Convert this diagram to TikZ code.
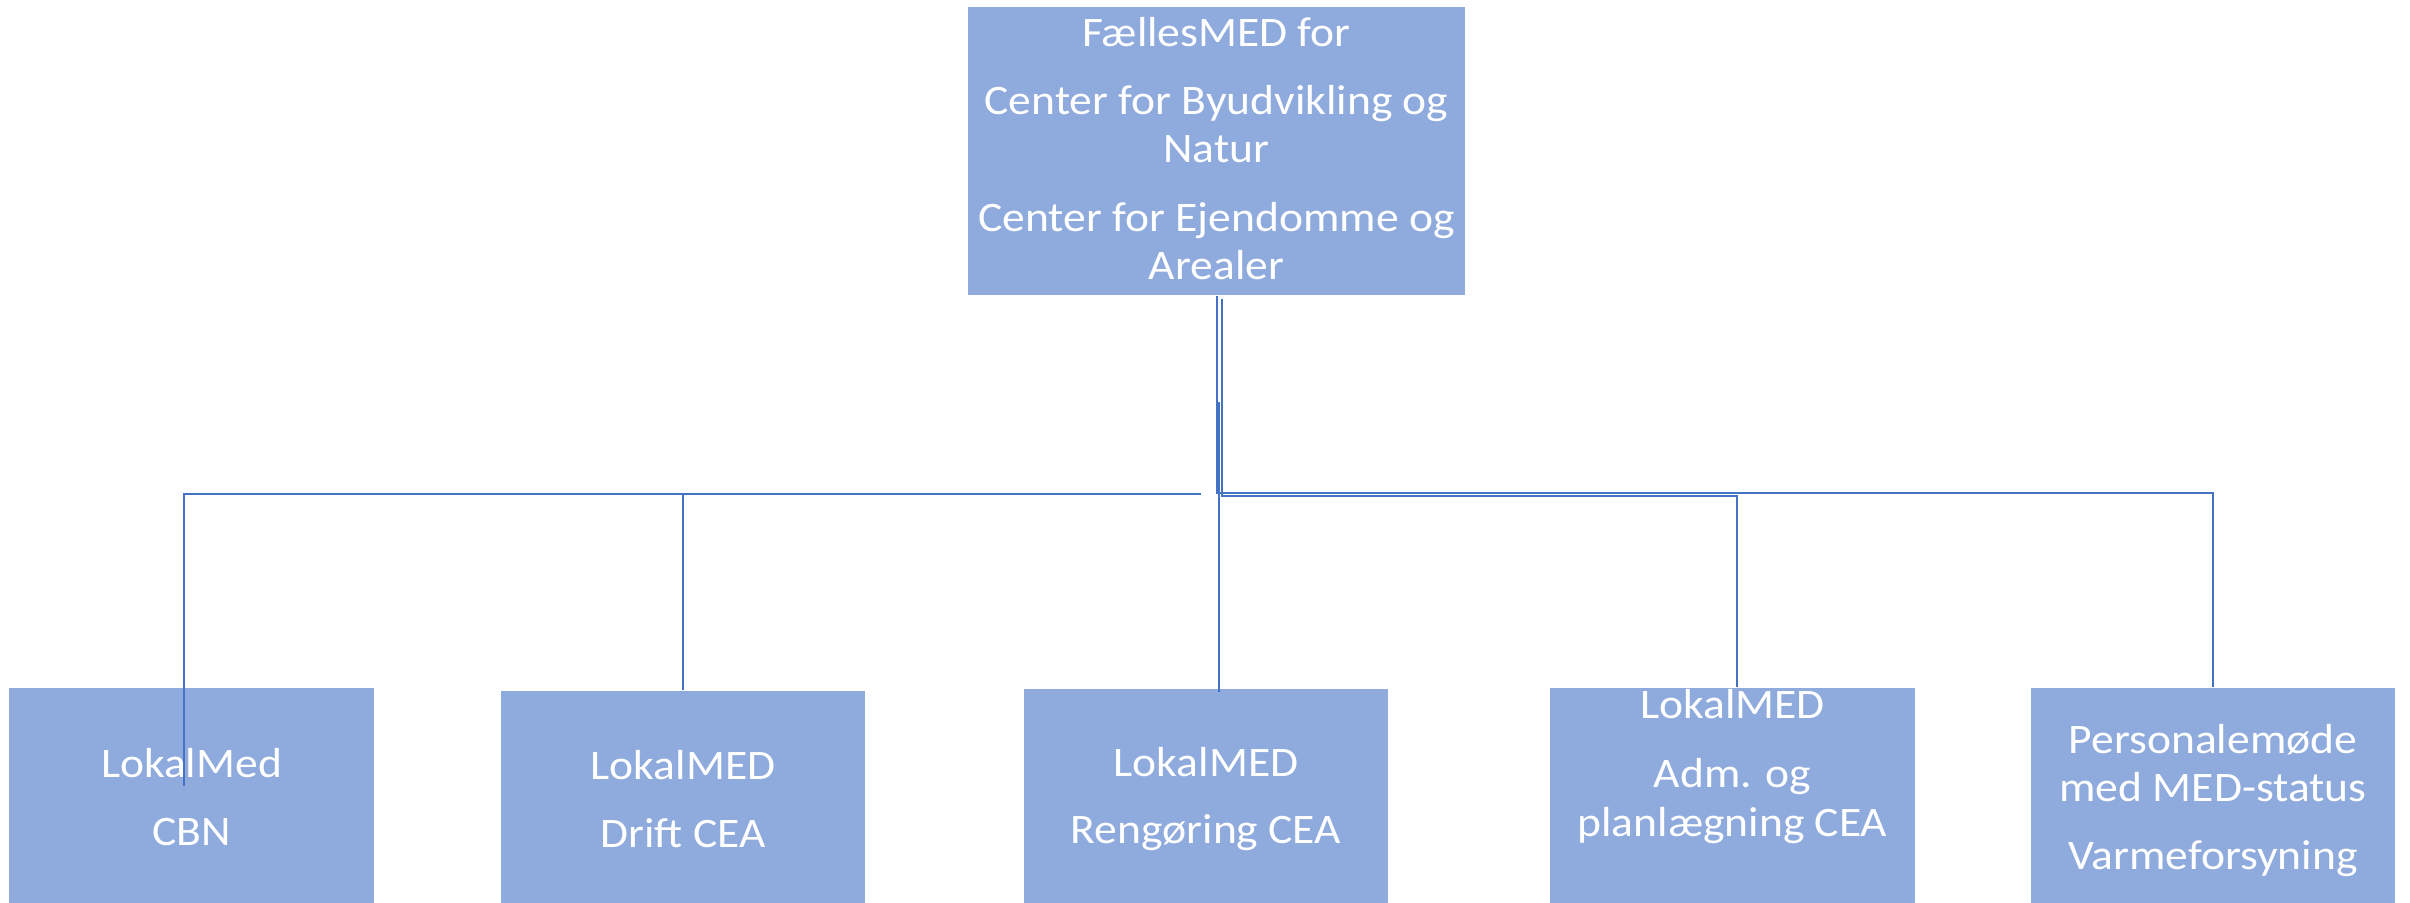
\documentclass[tikz,border=0pt]{standalone}
\usepackage{fontspec}
\setmainfont[FakeStretch=1.085]{Carlito}
\definecolor{boxfill}{HTML}{8FAADC}
\definecolor{linecol}{HTML}{4472C4}
\begin{document}
\begin{tikzpicture}[x=0.3pt,y=-0.3pt,
  box/.style={fill=boxfill, draw=none, inner sep=0pt},
  txt/.style={anchor=base, text=white, inner sep=0pt, font=\fontsize{12.6}{14.4}\selectfont},
  conn/.style={draw=linecol, line width=0.45pt}]
\useasboundingbox (0,0) rectangle (2410,903);
\clip (0,0) rectangle (2410,903);
\fill[white] (0,0) rectangle (2410,903);
% boxes
\node[box, minimum width=497*0.3pt, minimum height=288*0.3pt] (top) at (1216.5,151) {};
\node[box, minimum width=365*0.3pt, minimum height=236*0.3pt] (b1) at (191.5,806) {};
\node[box, minimum width=364*0.3pt, minimum height=233*0.3pt] (b2) at (683,807.5) {};
\node[box, minimum width=364*0.3pt, minimum height=235*0.3pt] (b3) at (1206,806.5) {};
\node[box, minimum width=365*0.3pt, minimum height=236*0.3pt] (b4) at (1732.5,806) {};
\node[box, minimum width=364*0.3pt, minimum height=236*0.3pt] (b5) at (2213,806) {};
% texts
\node[txt] (t0a) at (1216.5,47) {FællesMED for};
\node[txt] (t0b) at (1216.5,115) {Center for Byudvikling og};
\node[txt] (t0c) at (1216.5,163) {Natur};
\node[txt] (t0d) at (1216.5,232) {Center for Ejendomme og};
\node[txt] (t0e) at (1216.5,280) {Arealer};
\node[txt] (t1a) at (191.5,777) {LokalMed};
\node[txt] (t1b) at (191.5,845) {CBN};
\node[txt] (t2a) at (683,779) {LokalMED};
\node[txt] (t2b) at (683,847) {Drift CEA};
\node[txt] (t3a) at (1206,776) {LokalMED};
\node[txt] (t3b) at (1206,843) {Rengøring CEA};
\node[txt] (t4a) at (1732.5,718) {LokalMED};
\node[txt] (t4b) at (1732.5,787) {Adm. og};
\node[txt] (t4c) at (1732.5,836) {planlægning CEA};
\node[txt] (t5a) at (2213,753) {Personalemøde};
\node[txt] (t5b) at (2213,801) {med MED-status};
\node[txt] (t5c) at (2213,869) {Varmeforsyning};
% connector junctions
\coordinate (jA) at (1217,493);
\coordinate (jB) at (1222,496);
\coordinate (jC) at (1219,402);
\coordinate (jD) at (1201,494);
\coordinate (jDL) at (184,494);
\coordinate (e1) at (184,786);
% connectors
\draw[conn] (top.south -| jA) -- (jA) -| (b5.north);
\draw[conn] ([yshift=-3*0.3pt]top.south -| jB) -- (jB) -| ([xshift=4.5*0.3pt]b4.north);
\draw[conn] (jC) -- ([yshift=-4*0.3pt]jC |- b3.north);
\draw[conn] (jD) -- (jDL) -- (e1);
\draw[conn] (b2.north |- jD) -- (b2.north);
\end{tikzpicture}
\end{document}
